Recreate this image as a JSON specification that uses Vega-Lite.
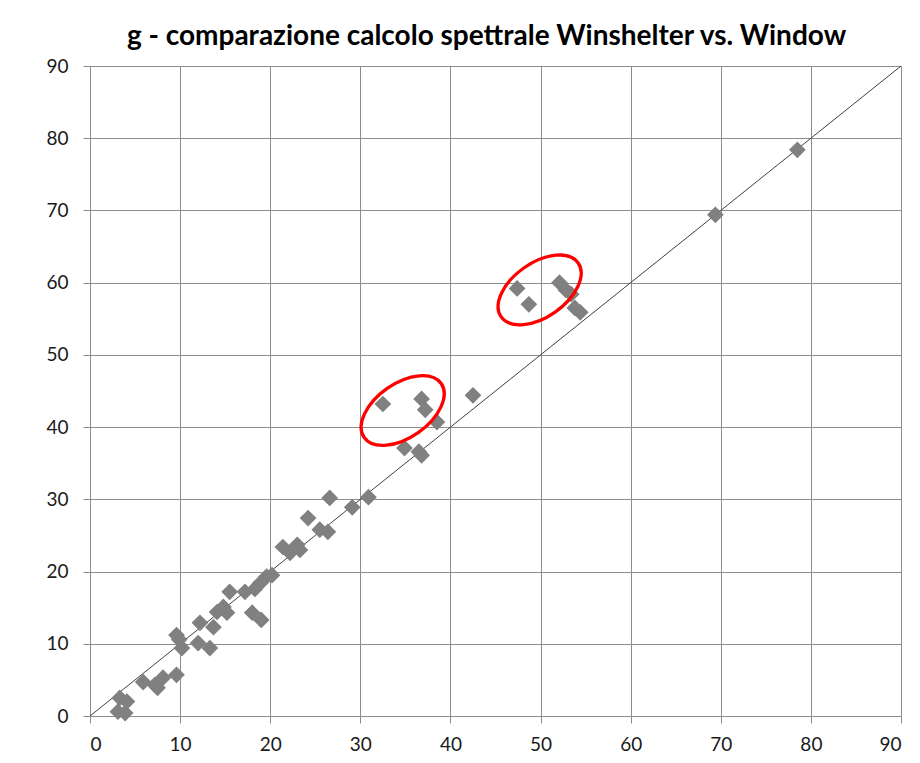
{
  "$schema": "https://vega.github.io/schema/vega-lite/v6.json",
  "width": 811,
  "height": 650,
  "autosize": {"type": "none"},
  "padding": {"left": 90, "top": 66, "right": 19, "bottom": 47},
  "background": "white",
  "title": {
    "text": "g - comparazione calcolo spettrale Winshelter vs. Window",
    "font": "Lato",
    "fontSize": 28,
    "fontWeight": "bold",
    "color": "#000000",
    "anchor": "middle",
    "offset": 6,
    "dx": -9
  },
  "config": {
    "view": {"stroke": null},
    "axis": {
      "domainColor": "#8c8c8c",
      "tickColor": "#8c8c8c",
      "gridColor": "#8c8c8c",
      "gridOpacity": 1,
      "gridWidth": 1,
      "tickSize": 7,
      "labelFont": "Lato",
      "labelFontSize": 19,
      "labelColor": "#1a1a1a",
      "title": null
    }
  },
  "layer": [
    {
      "data": {"values": [{"x": 0, "y": 0, "x2": 90, "y2": 90}]},
      "mark": {"type": "rule", "color": "#404040", "strokeWidth": 1},
      "encoding": {
        "x": {"field": "x", "type": "quantitative", "scale": {"domain": [0, 90], "nice": false},
              "axis": {"values": [0,10,20,30,40,50,60,70,80,90], "grid": true, "labelPadding": 12}},
        "y": {"field": "y", "type": "quantitative", "scale": {"domain": [0, 90], "nice": false},
              "axis": {"values": [0,10,20,30,40,50,60,70,80,90], "grid": true, "labelPadding": 15}},
        "x2": {"field": "x2"},
        "y2": {"field": "y2"}
      }
    },
    {
      "data": {"values": [
        {"w": 3.1, "g": 0.6}, {"w": 3.9, "g": 0.4}, {"w": 4.1, "g": 2.0}, {"w": 3.3, "g": 2.5},
        {"w": 5.9, "g": 4.7}, {"w": 7.2, "g": 4.3}, {"w": 7.5, "g": 3.9}, {"w": 8.1, "g": 5.3},
        {"w": 9.6, "g": 5.7}, {"w": 9.6, "g": 11.2}, {"w": 9.9, "g": 10.6}, {"w": 10.2, "g": 9.4},
        {"w": 12.0, "g": 10.1}, {"w": 12.2, "g": 12.9}, {"w": 13.3, "g": 9.4}, {"w": 13.7, "g": 12.3},
        {"w": 14.1, "g": 14.4}, {"w": 14.8, "g": 15.1}, {"w": 15.2, "g": 14.3}, {"w": 15.5, "g": 17.2},
        {"w": 17.2, "g": 17.2}, {"w": 18.0, "g": 14.3}, {"w": 18.3, "g": 17.6}, {"w": 19.0, "g": 13.3},
        {"w": 18.9, "g": 18.4}, {"w": 19.6, "g": 19.3}, {"w": 20.2, "g": 19.5}, {"w": 21.4, "g": 23.4},
        {"w": 22.2, "g": 22.6}, {"w": 23.0, "g": 23.7}, {"w": 23.3, "g": 23.0}, {"w": 24.2, "g": 27.4},
        {"w": 25.5, "g": 25.8}, {"w": 26.4, "g": 25.5}, {"w": 26.6, "g": 30.2}, {"w": 29.1, "g": 28.9},
        {"w": 30.9, "g": 30.3}, {"w": 32.5, "g": 43.2}, {"w": 34.9, "g": 37.1}, {"w": 36.5, "g": 36.6},
        {"w": 36.8, "g": 36.1}, {"w": 36.8, "g": 43.9}, {"w": 37.2, "g": 42.4}, {"w": 38.5, "g": 40.7},
        {"w": 42.5, "g": 44.4}, {"w": 47.4, "g": 59.2}, {"w": 48.7, "g": 57.0}, {"w": 52.1, "g": 60.0},
        {"w": 52.8, "g": 59.0}, {"w": 53.4, "g": 58.4}, {"w": 53.8, "g": 56.5}, {"w": 54.4, "g": 55.9},
        {"w": 69.4, "g": 69.4}, {"w": 78.5, "g": 78.4}
      ]},
      "mark": {"type": "point", "shape": "diamond", "filled": true, "size": 280, "color": "#808080", "opacity": 1},
      "encoding": {
        "x": {"field": "w", "type": "quantitative"},
        "y": {"field": "g", "type": "quantitative"}
      }
    },
    {
      "data": {"values": [{"cx": 34.7, "cy": 42.3}, {"cx": 49.9, "cy": 59.0}]},
      "mark": {
        "type": "point",
        "shape": "M -1 0 A 1 0.575 0 1 0 1 0 A 1 0.575 0 1 0 -1 0 Z",
        "filled": false,
        "size": 8836,
        "angle": -35,
        "stroke": "#ff0000",
        "strokeWidth": 3.3,
        "opacity": 1
      },
      "encoding": {
        "x": {"field": "cx", "type": "quantitative"},
        "y": {"field": "cy", "type": "quantitative"}
      }
    }
  ]
}
